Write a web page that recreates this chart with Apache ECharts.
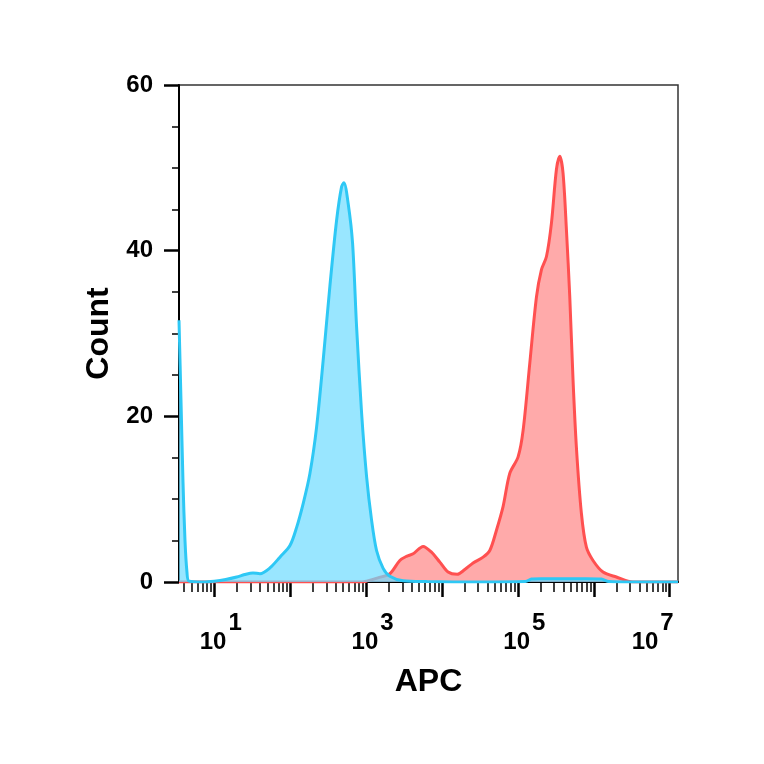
<!DOCTYPE html>
<html>
<head>
<meta charset="utf-8">
<script src="https://cdn.jsdelivr.net/npm/echarts@6/dist/echarts.min.js"></script>
<style>html,body{margin:0;padding:0;background:#fff}#chart{width:764px;height:764px}</style>
</head>
<body>
<div id="chart"></div>
<script>
// X positions are log10(APC)
const xRangeLog10 = [0.535, 7.11];
const majorDecades = [1, 2, 3, 4, 5, 6, 7];
const labelDecades = [1, 3, 5, 7];
const yTicks = [0, 20, 40, 60];

const blueLog10APC = [0.535, 0.561, 0.588, 0.614, 0.640, 0.667, 0.85, 1.0, 1.15, 1.295, 1.40, 1.510, 1.602, 1.733, 1.865, 1.997, 2.085, 2.172, 2.260, 2.348, 2.435, 2.523, 2.612, 2.677, 2.708, 2.764, 2.822, 2.875, 2.941, 3.007, 3.072, 3.138, 3.225, 3.313, 3.488, 3.8, 4.5, 5.1, 5.18, 5.3, 5.9, 6.1, 6.2, 6.5, 7.11];
const blueCount    = [31.6, 22, 12, 5, 1.2, 0.1, 0, 0.1, 0.3, 0.6, 0.9, 1.1, 1.0, 1.7, 3.0, 4.4, 6.6, 9.5, 13.1, 18.7, 26.8, 35.7, 43.7, 47.7, 48.2, 45.7, 40.9, 30.8, 20.4, 12.7, 7.5, 3.8, 1.65, 0.7, 0.15, 0.05, 0, 0.05, 0.35, 0.4, 0.4, 0.35, 0.05, 0, 0];

const redLog10APC = [0.535, 2.95, 3.007, 3.155, 3.313, 3.445, 3.533, 3.620, 3.752, 3.862, 3.972, 4.081, 4.200, 4.301, 4.410, 4.542, 4.630, 4.718, 4.805, 4.893, 5.003, 5.069, 5.157, 5.245, 5.311, 5.377, 5.442, 5.508, 5.552, 5.595, 5.640, 5.684, 5.727, 5.771, 5.837, 5.903, 5.990, 6.122, 6.298, 6.517, 7.11];
const redCount    = [0, 0, 0.1, 0.5, 1.0, 2.6, 3.1, 3.4, 4.3, 3.6, 2.4, 1.2, 0.93, 1.5, 2.3, 3.0, 3.8, 6.25, 9.1, 13.1, 15.1, 18.3, 26.4, 34.4, 37.7, 39.3, 43.3, 49.8, 51.4, 49.4, 42.5, 34.4, 24.4, 16.3, 8.3, 4.2, 2.6, 1.2, 0.6, 0, 0];

const FONT = '"Liberation Sans", Arial, Helvetica, sans-serif';

const minorDecadeTicks = [];
for (let d = 0; d <= 7; d++) {
  for (let k = 2; k <= 9; k++) {
    const v = d + Math.log10(k);
    if (v >= xRangeLog10[0] && v <= xRangeLog10[1]) minorDecadeTicks.push(v);
  }
}

const zip = (xs, ys) => xs.map((x, i) => [x, ys[i]]);
const lastDecade = labelDecades[labelDecades.length - 1];

const txt = {fontSize: 24, fontWeight: 'bold', color: '#000', fontFamily: FONT, lineHeight: 26, verticalAlign: 'bottom'};

const chart = echarts.init(document.getElementById('chart'), null, {renderer: 'canvas'});
chart.setOption({
  animation: false,
  backgroundColor: '#fff',
  grid: {left: 179, right: 86, top: 85, bottom: 182, show: true, borderColor: '#333', borderWidth: 1.5, containLabel: false},
  xAxis: [
    {
      type: 'value', min: xRangeLog10[0], max: xRangeLog10[1], position: 'bottom',
      name: 'APC', nameLocation: 'middle', nameGap: 84,
      nameTextStyle: {fontSize: 32, fontWeight: 'bold', color: '#000', fontFamily: FONT},
      axisLine: {show: true, onZero: false, lineStyle: {color: '#000', width: 2}},
      axisTick: {show: true, customValues: majorDecades, length: 15, lineStyle: {color: '#000', width: 2.5}},
      axisLabel: {
        show: true, customValues: labelDecades, margin: 46,
        formatter: v => {
          const e = Math.round(v);
          return e === lastDecade ? '{bL|10}{supL|' + e + '}' : '{b|10}{sup|' + e + '}';
        },
        rich: {
          b: Object.assign({}, txt, {padding: [0, 0, 0, 13]}),
          sup: Object.assign({}, txt, {padding: [0, 0, 19, 2]}),
          bL: Object.assign({}, txt, {padding: [0, 0, 0, 0]}),
          supL: Object.assign({}, txt, {padding: [0, 34, 19, 2]})
        }
      },
      splitLine: {show: false}
    },
    {
      type: 'value', min: xRangeLog10[0], max: xRangeLog10[1], position: 'bottom',
      axisLine: {show: false, onZero: false},
      axisTick: {show: true, customValues: minorDecadeTicks, length: 10, lineStyle: {color: '#000', width: 1.5}},
      axisLabel: {show: false},
      splitLine: {show: false}
    }
  ],
  yAxis: {
    type: 'value', min: 0, max: 60, interval: 20,
    name: 'Count', nameLocation: 'middle', nameGap: 54,
    nameTextStyle: {fontSize: 32, fontWeight: 'bold', color: '#000', fontFamily: FONT},
    axisLine: {show: true, onZero: false, lineStyle: {color: '#000', width: 2}},
    axisTick: {show: true, length: 15, lineStyle: {color: '#000', width: 2.5}},
    minorTick: {show: true, splitNumber: 4, length: 7, lineStyle: {color: '#000', width: 1.5}},
    axisLabel: {show: true, margin: 26, fontSize: 24, fontWeight: 'bold', color: '#000', fontFamily: FONT,
      customValues: yTicks},
    splitLine: {show: false}
  },
  series: [
    {
      type: 'line', name: 'stained', data: zip(redLog10APC, redCount), xAxisIndex: 0,
      showSymbol: false, smooth: 0.3,
      lineStyle: {color: '#ff5050', width: 3},
      areaStyle: {color: 'rgba(255,113,113,0.6)', opacity: 1},
      z: 2
    },
    {
      type: 'line', name: 'control', data: zip(blueLog10APC, blueCount), xAxisIndex: 0,
      showSymbol: false, smooth: 0.3,
      lineStyle: {color: '#2ec8f5', width: 3},
      areaStyle: {color: 'rgba(109,219,255,0.7)', opacity: 1},
      z: 3
    }
  ]
});
</script>
</body>
</html>
